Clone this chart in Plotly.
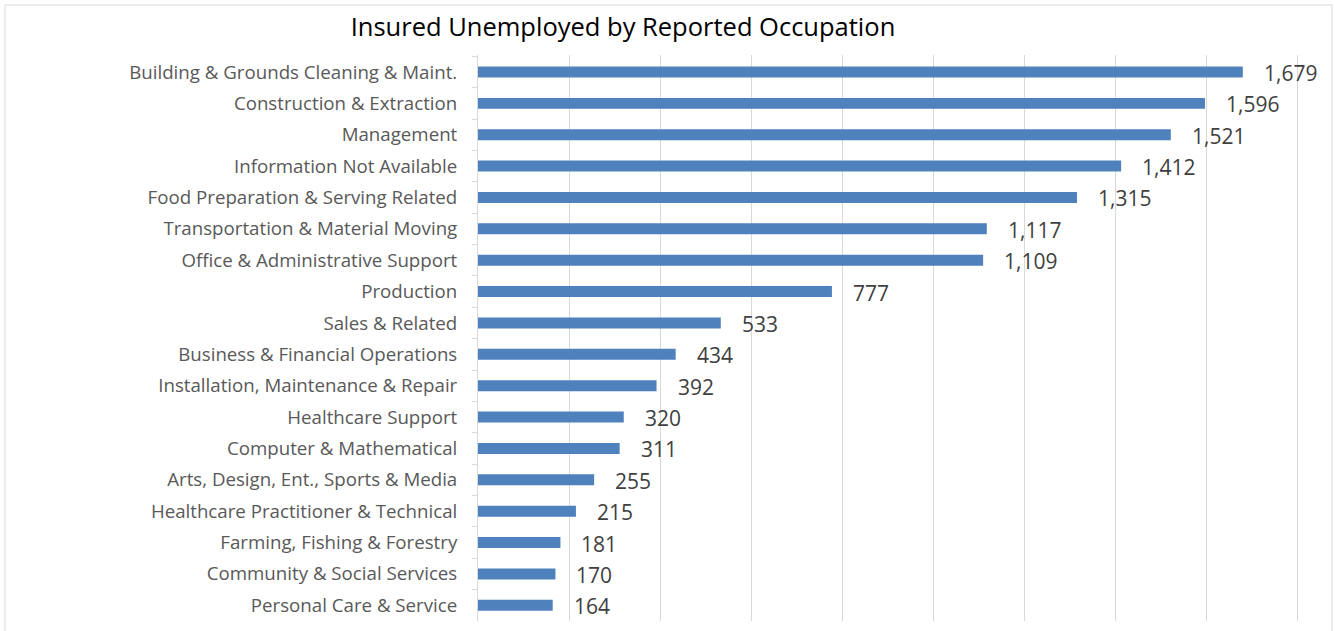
import plotly.graph_objects as go

occupations = [
    'Building & Grounds Cleaning & Maint.',
    'Construction & Extraction',
    'Management',
    'Information Not Available',
    'Food Preparation & Serving Related',
    'Transportation & Material Moving',
    'Office & Administrative Support',
    'Production',
    'Sales & Related',
    'Business & Financial Operations',
    'Installation, Maintenance & Repair',
    'Healthcare Support',
    'Computer & Mathematical',
    'Arts, Design, Ent., Sports & Media',
    'Healthcare Practitioner & Technical',
    'Farming, Fishing & Forestry',
    'Community & Social Services',
    'Personal Care & Service',
]
claimants = [1679, 1596, 1521, 1412, 1315, 1117, 1109, 777, 533, 434,
             392, 320, 311, 255, 215, 181, 170, 164]

bar_color = '#4f81bd'
font_name = 'Open Sans'

fig = go.Figure()
fig.add_trace(go.Bar(
    x=claimants,
    y=occupations,
    orientation='h',
    marker_color=bar_color,
    marker_line_width=0,
    hoverinfo='x+y',
))

# data labels sit a little to the right of each bar end
for occ, val in zip(occupations, claimants):
    fig.add_annotation(
        x=val, y=occ, text=f'{val:,}',
        xanchor='left', xshift=19, yshift=-1, showarrow=False,
        font=dict(family=font_name, size=21, color='#404040'),
    )

plot_w = 1335 - 478 - 28

# light grey frame around the whole chart
fig.add_shape(
    type='rect', xref='paper', yref='paper',
    x0=-473 / plot_w, x1=854 / plot_w, y0=-0.2, y1=616 / 566,
    line=dict(color='#d9d9d9', width=1), fillcolor='rgba(0,0,0,0)',
    layer='below',
)

fig.update_layout(
    width=1335,
    height=631,
    margin=dict(l=478, r=28, t=55, b=10),
    paper_bgcolor='white',
    plot_bgcolor='white',
    showlegend=False,
    bargap=0.65,
    title=dict(
        text='Insured Unemployed by Reported Occupation',
        x=623 / 1335, xref='container', xanchor='center',
        y=1 - 27 / 631, yref='container', yanchor='middle',
        font=dict(family=font_name, size=25.5, color='#000000'),
    ),
    xaxis=dict(
        range=[0, 1820],  # pad so the 1,800 gridline is drawn
        dtick=200,
        showgrid=True,
        gridcolor='#d9d9d9',
        gridwidth=1,
        showticklabels=False,
        zeroline=False,
        showline=False,
    ),
    yaxis=dict(
        autorange='reversed',
        showline=True,
        linecolor='#d9d9d9',
        linewidth=1,
        ticks='outside',
        tickson='boundaries',
        ticklen=5,
        tickcolor='#d9d9d9',
        ticklabelstandoff=16,
        automargin=False,
        tickfont=dict(family=font_name, size=18.7, color='#595959'),
    ),
)

# drop the page's default body margin so the figure sits at the top-left corner
fig.write_html('out.html', config={'displayModeBar': False},
               post_script="document.body.style.margin='0';")
